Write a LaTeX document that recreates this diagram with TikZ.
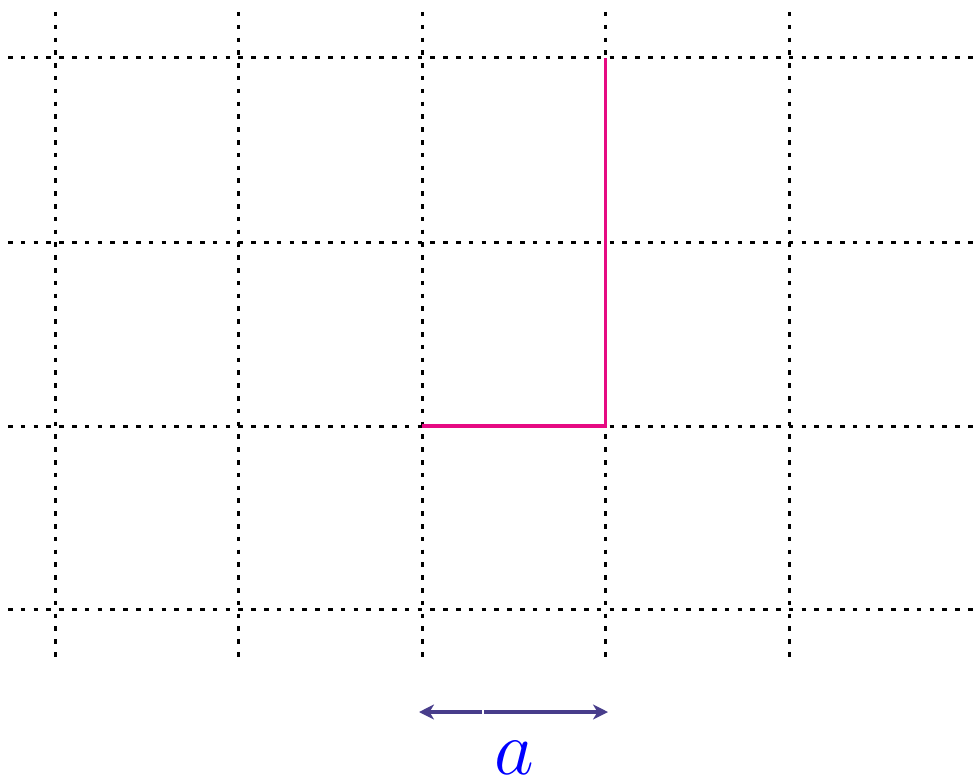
\documentclass[tikz,border=0pt]{standalone}
\usetikzlibrary{arrows.meta}
\definecolor{magentaline}{RGB}{230,10,130}
\definecolor{arrowcol}{RGB}{72,61,139}
\definecolor{labelblue}{RGB}{0,0,255}
\begin{document}
\begin{tikzpicture}[x=1pt,y=-1pt,
  gridline/.style={line width=3pt,dash pattern=on 4.5pt off 8.3pt,black},
  pathline/.style={line width=3.8pt,magentaline},
  dimarrow/.style={line width=3.6pt,arrowcol,-{Stealth[length=15pt,width=15pt,inset=4.5pt]}}]
\useasboundingbox (0,0) rectangle (973,781);
\foreach \x in {55,238.5,422,605.5,789}
  \draw[gridline] (\x,12) -- (\x,657);
\foreach \y in {58,242,426,609.5}
  \draw[gridline] (8,\y) -- (973,\y);
\coordinate (top) at (605.5,58);
\coordinate (corner) at (605.5,426);
\coordinate (left) at (422,426);
\draw[pathline] (top) -- (corner) -- (left);
\coordinate (mid) at (483,712);
\coordinate (aL) at (419,712);
\coordinate (aR) at (608,712);
\draw[dimarrow] ([xshift=-1.2pt]mid) -- (aL);
\draw[dimarrow] ([xshift=1.2pt]mid) -- (aR);
\node[anchor=base,text=labelblue,inner sep=0pt] (lbl) at (514,774) {\scalebox{3.1}{\Huge$a$}};
\end{tikzpicture}
\end{document}
